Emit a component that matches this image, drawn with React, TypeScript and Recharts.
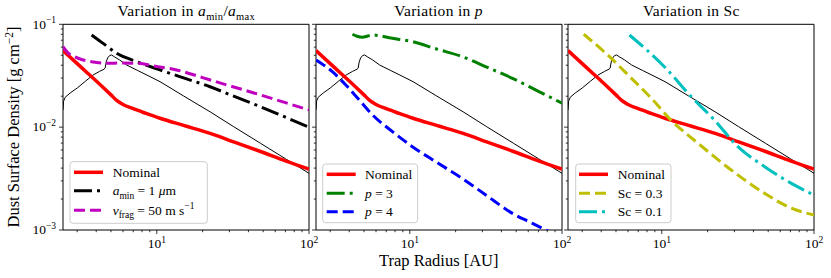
import React from 'react'
import { LineChart, Line, XAxis, YAxis, ReferenceArea } from 'recharts'

// radius [AU] / dust surface density [g cm^-2]
const nominalR = [2.42, 3, 3.5, 4, 4.5, 5, 5.45, 6, 7, 8.5, 10.5, 15, 22.4, 32, 48, 70, 100]
const nominalSigma = [0.0555, 0.0415, 0.0336, 0.0281, 0.0239, 0.0206, 0.0182, 0.0166, 0.0151, 0.0136, 0.0122, 0.0104, 0.0087, 0.0072, 0.0058, 0.0047, 0.0039]

const gasR = [2.42, 2.44, 2.5, 2.7, 3.0, 3.4, 3.8, 4.2, 4.5, 4.58, 4.65, 4.75, 4.9, 5.05, 5.3, 5.7, 6.34, 7.5, 8.5, 10.5, 15, 22.4, 32, 48, 70, 100]
const gasSigma = [0.0147, 0.0178, 0.0195, 0.0215, 0.024, 0.028, 0.032, 0.0348, 0.0366, 0.0375, 0.043, 0.047, 0.0497, 0.0503, 0.048, 0.045, 0.0402, 0.0355, 0.0324, 0.0277, 0.0201, 0.0141, 0.0101, 0.00697, 0.00493, 0.00356]

const aminR = [3.73, 4.2, 4.7, 5.45, 7.4, 10.5, 15, 22.4, 32, 48, 70, 100]
const aminSigma = [0.0787, 0.0693, 0.0612, 0.0523, 0.0433, 0.036, 0.0301, 0.0247, 0.02, 0.0158, 0.0125, 0.01]

const vfragR = [2.42, 2.6, 2.89, 3.2, 3.73, 4.68, 5.8, 7.38, 10, 13.5, 20, 28.9, 47.9, 70, 100]
const vfragSigma = [0.0605, 0.053, 0.0484, 0.0455, 0.0433, 0.0418, 0.042, 0.0418, 0.0388, 0.036, 0.0303, 0.0257, 0.0206, 0.0173, 0.0147]

const p3R = [4.2, 4.5, 4.89, 5.3, 5.7, 7.5, 10.4, 15, 22.2, 32, 47.3, 70, 100]
const p3Sigma = [0.08, 0.0765, 0.0748, 0.077, 0.0787, 0.0735, 0.0678, 0.0575, 0.0484, 0.0384, 0.0298, 0.0223, 0.0171]

const p4R = [2.42, 3.1, 3.8, 4.65, 5.7, 7.7, 10.4, 14.8, 22.2, 31.6, 47.3, 64, 78, 90]
const p4Sigma = [0.045, 0.0346, 0.0257, 0.0184, 0.0131, 0.00904, 0.00646, 0.00461, 0.00316, 0.00219, 0.00145, 0.00116, 0.001, 0.0009]

const sc03R = [3.07, 4.41, 6.3, 8.5, 11.5, 17.3, 28.6, 47.4, 71, 100]
const sc03Sigma = [0.08, 0.0503, 0.03, 0.0192, 0.0117, 0.00697, 0.00383, 0.00227, 0.00163, 0.0014]

const sc01R = [6.13, 10.4, 15.6, 22.2, 31.6, 47.4, 71, 100]
const sc01Sigma = [0.0787, 0.0387, 0.0198, 0.0117, 0.00646, 0.00413, 0.00284, 0.00219]

const X_MIN = 2.42
const X_TICKS = [3, 4, 5, 6, 7, 8, 9, 10, 20, 30, 40, 50, 60, 70, 80, 90, 100]
const Y_TICKS = [0.001, 0.002, 0.003, 0.004, 0.005, 0.006, 0.007, 0.008, 0.009, 0.01, 0.02, 0.03, 0.04, 0.05, 0.06, 0.07, 0.08, 0.09, 0.1]

const pts = (r: number[], s: number[]) => r.map((v, i) => ({ r: v, s: s[i] }))

const FONT = 'Liberation Serif, DejaVu Serif, Times New Roman, serif'
const DASH = '11 5'
const DASHDOT = '18 5 3 5'

type Series = { key: string; data: { r: number; s: number }[]; color: string; width: number; dash?: string; curve?: 'linear' | 'monotone' }

const gas: Series = { key: 'gas', data: pts(gasR, gasSigma), color: '#000', width: 1, curve: 'linear' }
const nominal: Series = { key: 'nominal', data: pts(nominalR, nominalSigma), color: '#ff0000', width: 3.5 }

const PANELS: { left: number; series: Series[] }[] = [
  {
    left: 63.3,
    series: [
      gas, nominal,
      { key: 'amin', data: pts(aminR, aminSigma), color: '#000', width: 3, dash: DASHDOT },
      { key: 'vfrag', data: pts(vfragR, vfragSigma), color: '#bf00bf', width: 3, dash: DASH },
    ],
  },
  {
    left: 315.7,
    series: [
      gas, nominal,
      { key: 'p3', data: pts(p3R, p3Sigma), color: '#008000', width: 3, dash: DASHDOT },
      { key: 'p4', data: pts(p4R, p4Sigma), color: '#0000ff', width: 3, dash: DASH },
    ],
  },
  {
    left: 568.3,
    series: [
      gas, nominal,
      { key: 'sc03', data: pts(sc03R, sc03Sigma), color: '#bfbf00', width: 3, dash: DASH },
      { key: 'sc01', data: pts(sc01R, sc01Sigma), color: '#00bfbf', width: 3, dash: DASHDOT },
    ],
  },
]

const isDecade = (v: number) => Math.abs(Math.log10(v) - Math.round(Math.log10(v))) < 1e-6

function XTick({ x, y, payload }: any) {
  const v = payload.value
  const major = isDecade(v)
  return (
    <g>
      <line x1={x} x2={x} y1={y} y2={y + (major ? 4 : 2.2)} stroke="#000" strokeWidth={0.8} />
      {major && (
        <text x={x} y={y + 18} textAnchor="middle" fontSize={13.5} fill="#000" fontFamily={FONT}>
          10<tspan dy={-5.5} fontSize={9.5}>{Math.round(Math.log10(v))}</tspan>
        </text>
      )}
    </g>
  )
}

function YTick({ x, y, payload, showLabel }: any) {
  const v = payload.value
  const major = isDecade(v)
  return (
    <g>
      <line x1={x - (major ? 4 : 2.2)} x2={x} y1={y} y2={y} stroke="#000" strokeWidth={0.8} />
      {major && showLabel && (
        <text x={x - 7} y={y + 4.3} textAnchor="end" fontSize={13.5} fill="#000" fontFamily={FONT}>
          10<tspan dy={-5.5} fontSize={9.5}>{'\u2212' + Math.abs(Math.round(Math.log10(v)))}</tspan>
        </text>
      )}
    </g>
  )
}

function Panel({ left, series, showYLabels }: { left: number; series: Series[]; showYLabels: boolean }) {
  return (
    <div style={{ position: 'absolute', left: left - 60, top: 0 }}>
      <LineChart width={316} height={278} margin={{ top: 24.3, right: 10, bottom: 0, left: 0 }}>
        <XAxis
          dataKey="r" type="number" scale="log" domain={[X_MIN, 100]} allowDataOverflow
          ticks={X_TICKS} interval={0} tick={(p: any) => <XTick {...p} />}
          tickLine={false} axisLine={false} tickSize={0} tickMargin={0} height={48}
        />
        <YAxis
          type="number" scale="log" domain={[0.001, 0.1]} allowDataOverflow
          ticks={Y_TICKS} interval={0} tick={(p: any) => <YTick {...p} showLabel={showYLabels} />}
          tickLine={false} axisLine={false} tickSize={0} tickMargin={0} width={60}
        />
        {series.map((s) => (
          <Line
            key={s.key} data={s.data} dataKey="s" type={s.curve ?? 'monotone'} stroke={s.color} strokeWidth={s.width}
            strokeDasharray={s.dash} dot={false} activeDot={false} isAnimationActive={false}
          />
        ))}
        <ReferenceArea x1={X_MIN} x2={100} y1={0.001} y2={0.1} fill="none" stroke="#000" strokeWidth={1} />
      </LineChart>
    </div>
  )
}

function LegendBox({ x, y, w, h, sx, tx, rows }: any) {
  return (
    <g>
      <rect x={x} y={y} width={w} height={h} rx={3} fill="#fff" fillOpacity={0.8} stroke="#ccc" strokeWidth={1} />
      {rows.map((r: any, i: number) => (
        <g key={i}>
          <line x1={sx} x2={sx + 29} y1={r.y} y2={r.y} stroke={r.color} strokeWidth={r.width} strokeDasharray={r.dash} />
          <text x={tx} y={r.y + 4.5} fontSize={13.5} fill="#000">{r.label}</text>
        </g>
      ))}
    </g>
  )
}

export default function App() {
  return (
    <div style={{ position: 'absolute', left: 0, top: 0, width: 831, height: 278, background: '#fff', fontFamily: FONT, overflow: 'hidden' }}>
      {PANELS.map((p, i) => (
        <Panel key={i} left={p.left} series={p.series} showYLabels={i === 0} />
      ))}
      <svg width={831} height={278} style={{ position: 'absolute', left: 0, top: 0, pointerEvents: 'none', fontFamily: FONT }}>
        <text x={186.3} y={16} textAnchor="middle" fontSize={15.5} letterSpacing={0.3}>
          Variation in <tspan fontStyle="italic">a</tspan>
          <tspan dy={3.5} fontSize={10.5}>min</tspan>
          <tspan dy={-3.5}>/</tspan><tspan fontStyle="italic">a</tspan>
          <tspan dy={3.5} fontSize={10.5}>max</tspan>
        </text>
        <text x={438.5} y={16} textAnchor="middle" fontSize={15.5} letterSpacing={0.3}>
          Variation in <tspan fontStyle="italic">p</tspan>
        </text>
        <text x={691.3} y={16} textAnchor="middle" fontSize={15.5} letterSpacing={0.3}>Variation in Sc</text>
        <text x={438.8} y={265.5} textAnchor="middle" fontSize={16.5}>Trap Radius [AU]</text>
        <text transform="translate(19,127) rotate(-90)" textAnchor="middle" fontSize={16.5}>
          Dust Surface Density [g cm<tspan dy={-6} fontSize={11.5}>{'\u22122'}</tspan><tspan dy={6}>]</tspan>
        </text>

        <LegendBox
          x={70} y={161.7} w={137.3} h={61.6} sx={74} tx={112.7}
          rows={[
            { y: 172.3, color: '#ff0000', width: 3.5, label: 'Nominal' },
            {
              y: 190.7, color: '#000', width: 3, dash: DASHDOT,
              label: [<tspan key="1" fontStyle="italic">a</tspan>, <tspan key="2" dy={3.5} fontSize={9.5}>min</tspan>, <tspan key="3" dy={-3.5}> = 1 </tspan>, <tspan key="4" fontStyle="italic">μ</tspan>, <tspan key="5">m</tspan>],
            },
            {
              y: 210.3, color: '#bf00bf', width: 3, dash: DASH,
              label: [<tspan key="1" fontStyle="italic">v</tspan>, <tspan key="2" dy={3.5} fontSize={9.5}>frag</tspan>, <tspan key="3" dy={-3.5}> = 50 m s</tspan>, <tspan key="4" dy={-5.5} fontSize={9.5}>{'\u22121'}</tspan>],
            },
          ]}
        />
        <LegendBox
          x={322.7} y={164} w={95} h={58.7} sx={326.7} tx={365}
          rows={[
            { y: 174.3, color: '#ff0000', width: 3.5, label: 'Nominal' },
            { y: 193.3, color: '#008000', width: 3, dash: DASHDOT, label: [<tspan key="1" fontStyle="italic">p</tspan>, <tspan key="2"> = 3</tspan>] },
            { y: 211.7, color: '#0000ff', width: 3, dash: DASH, label: [<tspan key="1" fontStyle="italic">p</tspan>, <tspan key="2"> = 4</tspan>] },
          ]}
        />
        <LegendBox
          x={575.7} y={164} w={95.3} h={58.7} sx={579} tx={617.7}
          rows={[
            { y: 174.3, color: '#ff0000', width: 3.5, label: 'Nominal' },
            { y: 193.3, color: '#bfbf00', width: 3, dash: DASH, label: 'Sc = 0.3' },
            { y: 211.7, color: '#00bfbf', width: 3, dash: DASHDOT, label: 'Sc = 0.1' },
          ]}
        />
      </svg>
    </div>
  )
}
